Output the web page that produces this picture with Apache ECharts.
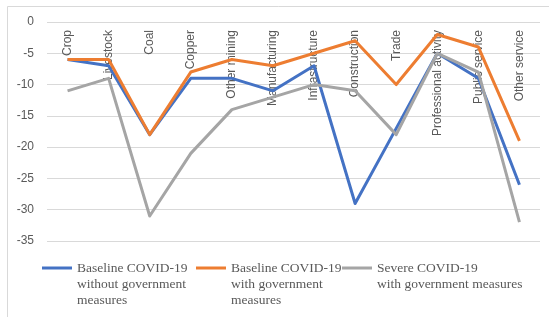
<!DOCTYPE html>
<html>
<head>
<meta charset="utf-8">
<script src="https://cdn.jsdelivr.net/npm/echarts@6/dist/echarts.min.js"></script>
<style>
html, body { margin: 0; padding: 0; background: #fff; }
#chart { width: 549px; height: 317px; }
</style>
</head>
<body>
<div id="chart"></div>
<script>
// categories along the x axis
const sectors = ['Crop', 'Livestock', 'Coal', 'Copper', 'Other mining', 'Manufacturing',
    'Infrastructure', 'Construction', 'Trade', 'Professional activity', 'Public service', 'Other service'];

// series values (% change)
const baseNoMeasures = [-6, -7, -18, -9, -9, -11, -7, -29, -17, -5, -9, -26];
const baseWithMeasures = [-6, -6, -18, -8, -6, -7, -5, -3, -10, -2, -4, -19];
const severeWithMeasures = [-11, -9, -31, -21, -14, -12, -10, -11, -18, -5, -8, -32];

const seriesNames = [
    'Baseline COVID-19\nwithout government\nmeasures',
    'Baseline COVID-19\nwith government\nmeasures',
    'Severe COVID-19\nwith government measures',
];
const yTicks = { min: -35, max: 0, step: 5 };

const colors = ['#4472C4', '#ED7D31', '#A5A5A5'];
const lineH = 16;

// icon sits at the vertical middle of the text, so pad with blank lines
// above (and below for short items) to bring it level with the first line
function legendText(name) {
    let n = name.split('\n').length;
    let s = ' \n \n' + name;
    for (let i = n; i < 3; i++) s += '\n ';
    return s;
}

function legendAt(name, left) {
    return {
        data: [name],
        left: left,
        top: 228,
        padding: 0,
        itemWidth: 30,
        itemHeight: 3,
        icon: 'rect',
        itemStyle: { borderWidth: 0 },
        selectedMode: false,
        formatter: legendText,
        textStyle: {
            fontFamily: 'Liberation Serif',
            fontSize: 13.5,
            color: '#595959',
            lineHeight: lineH,
        },
    };
}

function lineSeries(name, values, idx) {
    return {
        name: name,
        type: 'line',
        data: values,
        symbol: 'none',
        color: colors[idx],
        lineStyle: { width: 3, color: colors[idx], join: 'round' },
        animation: false,
    };
}

const chart = echarts.init(document.getElementById('chart'), null, { renderer: 'canvas' });
chart.setOption({
    backgroundColor: '#fff',
    graphic: [{
        type: 'rect',
        shape: { x: 7.5, y: 6.5, width: 560, height: 320 },
        style: { fill: 'none', stroke: '#d9d9d9', lineWidth: 1 },
        silent: true,
    }],
    grid: { left: 47, right: 9, top: 22, bottom: 76 },
    legend: [
        legendAt(seriesNames[0], 42),
        legendAt(seriesNames[1], 196),
        legendAt(seriesNames[2], 342),
    ],
    xAxis: {
        type: 'category',
        data: sectors,
        position: 'top',
        axisLine: { show: false },
        axisTick: { show: false },
        splitLine: { show: false },
        axisLabel: {
            inside: true,
            rotate: 90,
            margin: 8,
            interval: 0,
            fontFamily: 'Liberation Sans',
            fontSize: 12,
            color: '#595959',
        },
    },
    yAxis: {
        type: 'value',
        min: yTicks.min,
        max: yTicks.max,
        interval: yTicks.step,
        axisLine: { show: false },
        axisTick: { show: false },
        axisLabel: {
            margin: 13,
            fontFamily: 'Liberation Sans',
            fontSize: 12,
            color: '#595959',
        },
        splitLine: { lineStyle: { color: '#d9d9d9', width: 1 } },
    },
    series: [
        lineSeries(seriesNames[0], baseNoMeasures, 0),
        lineSeries(seriesNames[1], baseWithMeasures, 1),
        lineSeries(seriesNames[2], severeWithMeasures, 2),
    ],
});
</script>
</body>
</html>
